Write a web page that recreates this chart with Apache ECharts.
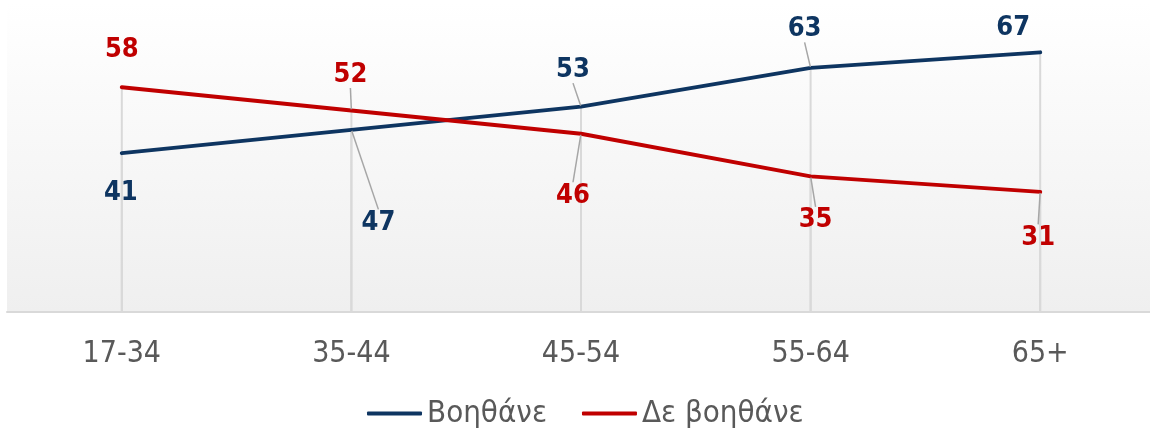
<!DOCTYPE html>
<html><head><meta charset="utf-8">
<script src="https://cdn.jsdelivr.net/npm/echarts@6/dist/echarts.min.js"></script>
<style>html,body{margin:0;padding:0;background:#fff}#c{width:1150px;height:428px}</style>
</head><body><div id="c"></div>
<script>
// ---- data ----
const categories = ['17-34', '35-44', '45-54', '55-64', '65+'];
const helpsName = 'Βοηθάνε';
const helpsValues = [41, 47, 53, 63, 67];
const notHelpsName = 'Δε βοηθάνε';
const notHelpsValues = [58, 52, 46, 35, 31];

// ---- layout (label centre offset from its point, px) ----
const helpsLabelShift = [[-1, 40], [27, 93], [-8, -37], [-6, -39], [-27, -24]];
const notHelpsLabelShift = [[0, -37], [-1, -36], [-8, 62], [5, 44], [-2, 46]];
const helpsLeader = [false, true, true, true, false];
const notHelpsLeader = [false, true, true, true, true];

const FONT = "'DejaVu Sans Condensed', 'DejaVu Sans', sans-serif";
const BLUE = '#0e3561';
const RED = '#c00000';
const GREY_TEXT = '#595959';

function lineSeries(name, values, color, shifts, leaders) {
  return {
    name: name,
    type: 'line',
    z: 5,
    data: values.map((v, i) => ({ value: v, labelLine: { show: leaders[i] } })),
    symbol: 'circle',
    symbolSize: 2,
    showSymbol: true,
    lineStyle: { color: color, width: 4, cap: 'round' },
    itemStyle: { color: color },
    label: {
      show: true,
      position: 'inside',
      color: color,
      fontFamily: FONT,
      fontWeight: 'bold',
      fontSize: 27,
      padding: [10, 4, 10, 4]
    },
    labelLine: { show: true, lineStyle: { color: '#a6a6a6', width: 1.5 } },
    labelLayout: function (p) {
      const s = shifts[p.dataIndex];
      return { dx: s[0], dy: s[1] };
    },
    emphasis: { disabled: true }
  };
}

function dropSeries(values) {
  return {
    type: 'bar',
    z: 1,
    data: values,
    barWidth: 2,
    barGap: '-100%',
    itemStyle: { color: '#d9d9d9' },
    silent: true,
    legendHoverLink: false
  };
}

const chart = echarts.init(document.getElementById('c'));
chart.setOption({
  animation: false,
  grid: {
    left: 7, width: 1148, top: 2, bottom: 116,
    outerBoundsMode: 'none',
    containLabel: false,
    show: true,
    borderWidth: 0,
    backgroundColor: {
      type: 'linear', x: 0, y: 0, x2: 0, y2: 1,
      colorStops: [{ offset: 0, color: '#ffffff' }, { offset: 1, color: '#efefef' }]
    }
  },
  legend: {
    data: [helpsName, notHelpsName],
    left: 362,
    top: 393,
    itemWidth: 55,
    itemHeight: 4,
    itemGap: 35,
    icon: 'roundRect',
    textStyle: { color: GREY_TEXT, fontSize: 31, fontFamily: FONT }
  },
  xAxis: {
    type: 'category',
    data: categories,
    boundaryGap: true,
    axisLine: { show: true, lineStyle: { color: '#d9d9d9', width: 2 } },
    axisTick: { show: false },
    splitLine: { show: false },
    axisLabel: { color: GREY_TEXT, fontSize: 30, fontFamily: FONT, margin: 27 }
  },
  yAxis: { type: 'value', min: 0, max: 80, show: false, splitLine: { show: false } },
  series: [
    dropSeries(helpsValues),
    dropSeries(notHelpsValues),
    lineSeries(helpsName, helpsValues, BLUE, helpsLabelShift, helpsLeader),
    lineSeries(notHelpsName, notHelpsValues, RED, notHelpsLabelShift, notHelpsLeader)
  ]
});
</script>
</body></html>
